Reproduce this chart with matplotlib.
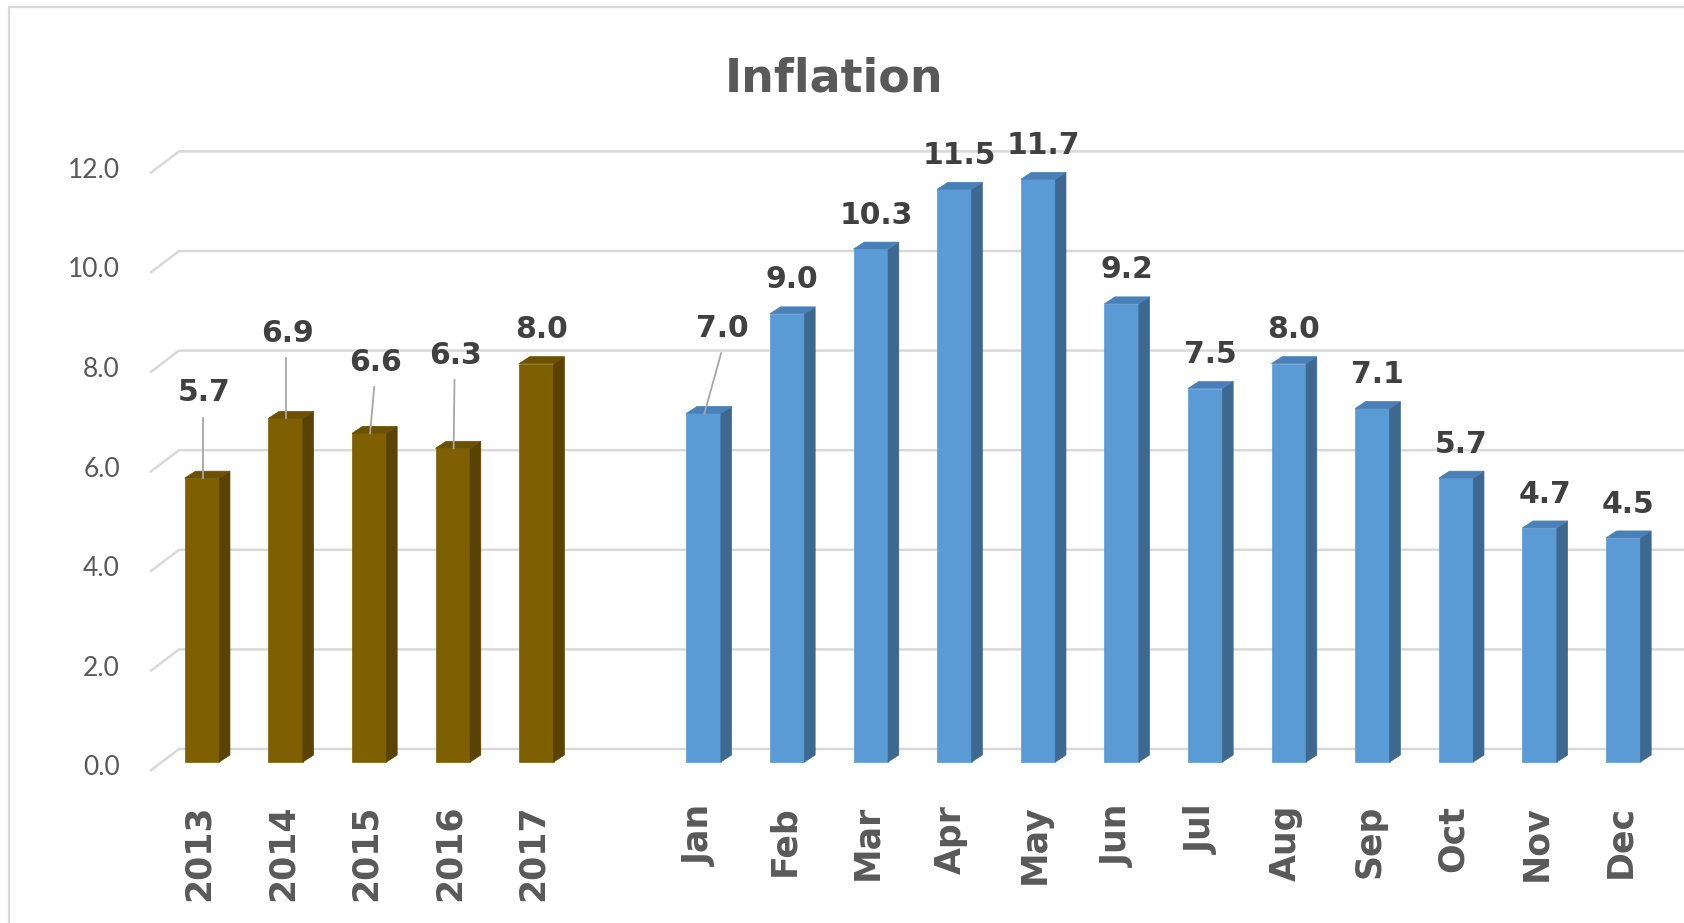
import matplotlib.pyplot as plt
from matplotlib.patches import Polygon, Rectangle

# данные
years = ['2013', '2014', '2015', '2016', '2017']
year_values = [5.7, 6.9, 6.6, 6.3, 8.0]
months = ['Jan', 'Feb', 'Mar', 'Apr', 'May', 'Jun',
          'Jul', 'Aug', 'Sep', 'Oct', 'Nov', 'Dec']
month_values = [7.0, 9.0, 10.3, 11.5, 11.7, 9.2, 7.5, 8.0, 7.1, 5.7, 4.7, 4.5]
y_ticks = [0, 2, 4, 6, 8, 10, 12]

# подписи, вынесенные вручную (смещение по x в слотах, по y в единицах)
moved_labels = {'2013': (0.02, 1.71), '2014': (0.02, 1.71), '2015': (0.07, 1.43),
                '2016': (0.03, 1.87), 'Jan': (0.22, 1.71)}

W, H = 1684, 923
SLOT_PX, X0_PX = 83.6, 202
UNIT_PX, Y0_PX = 49.8, 762

BW = 0.413   # ширина передней грани
DX, DY = 0.128, 0.14   # глубина 3D

BROWN = ('#7f6000', '#5a4300', '#6b5100')
BLUE = ('#5b9bd5', '#3d6890', '#4a80b8')

cats = years + [''] + months
vals = year_values + [None] + month_values
cols = [BROWN] * len(years) + [None] + [BLUE] * len(months)

fig = plt.figure(figsize=(W / 100, H / 100), dpi=100)
ax = fig.add_axes([0, 0, 1, 1])
xmax = (W - X0_PX) / SLOT_PX
ax.set_xlim(-X0_PX / SLOT_PX, xmax)
ax.set_ylim(-(H - Y0_PX) / UNIT_PX, Y0_PX / UNIT_PX)
ax.axis('off')

# рамка
fig.patches.append(Rectangle((9 / W, -0.05), 1.2, 1 - 7 / H + 0.05, transform=fig.transFigure,
                             fill=False, edgecolor='#d9d9d9', lw=1.6))

# сетка (задняя и боковая стенки)
for v in y_ticks:
    ax.plot([-0.622, -0.275, xmax], [v - 0.18, v + 0.261, v + 0.261],
            color='#d9d9d9', lw=1.8, zorder=1, solid_capstyle='butt')
    ax.text(-0.981, v - 0.12, f'{v:.1f}', ha='right', va='center',
            fontsize=19, color='#595959', family='Lato')

gray = '#595959'
for i, (c, v, col) in enumerate(zip(cats, vals, cols)):
    if v is None:
        continue
    front, side, top = col
    ax.bar(i, v, width=BW, color=front, edgecolor=front, lw=0.5, zorder=3)
    r = i + BW / 2
    l = i - BW / 2
    ax.add_patch(Polygon([(r, 0), (r + DX, DY), (r + DX, v + DY), (r, v)],
                         closed=True, facecolor=side, edgecolor=side, zorder=3, lw=0.5))
    ax.add_patch(Polygon([(l, v), (r, v), (r + DX, v + DY), (l + DX, v + DY)],
                         closed=True, facecolor=top, edgecolor=top, zorder=3, lw=0.5))
    # подписи значений
    if c in moved_labels:
        ox, oy = moved_labels[c]
        lx, ly = i + ox, v + oy
        ax.plot([lx - 0.01, i + 0.01], [ly - 0.5, v], color='#a6a6a6', lw=1.3, zorder=4)
    else:
        lx, ly = i + 0.06, v + 0.68
    ax.text(lx, ly, f'{v:.1f}', ha='center', va='center', fontsize=21.5,
            fontweight='bold', color='#404040', zorder=5)
    # подписи категорий
    ax.text(i - 0.04, -0.86, c, rotation=90, ha='center', va='top',
            fontsize=25, fontweight='bold', color=gray)

fig.text(834.5 / W, 1 - 79 / H, 'Inflation', ha='center', va='center',
         fontsize=33, fontweight='bold', color=gray)

plt.savefig('out.png', dpi=100)
plt.close()
